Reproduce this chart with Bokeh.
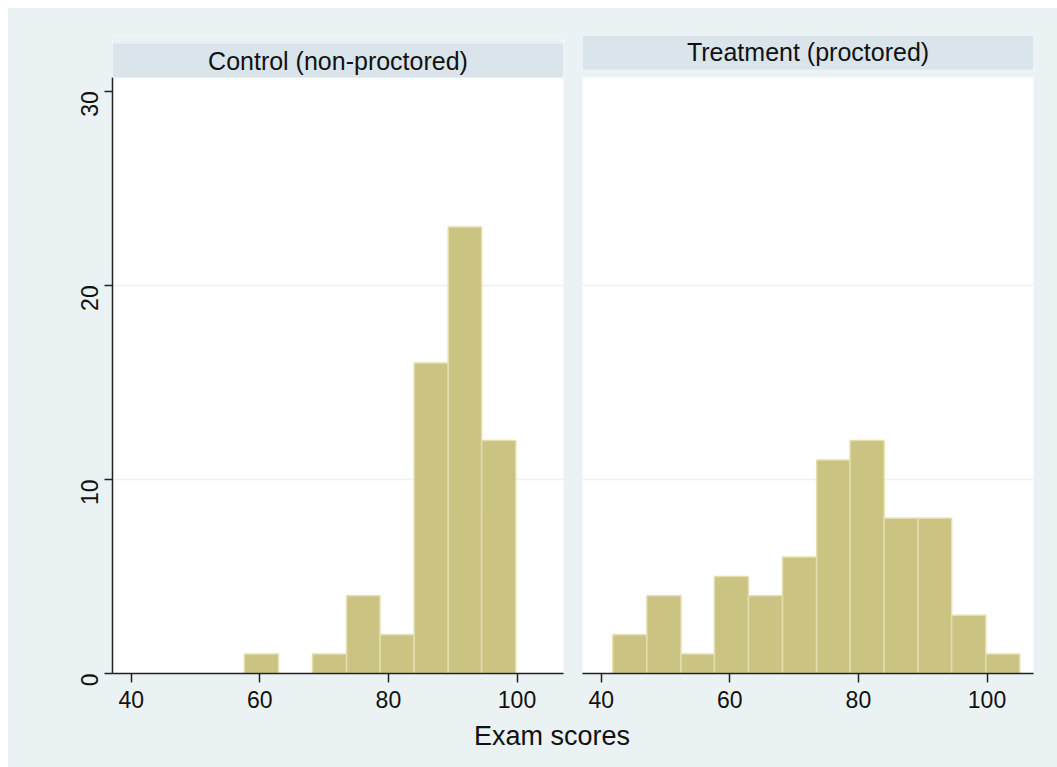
import math
from bokeh.plotting import figure
from bokeh.models import Range1d, FixedTicker, BoxAnnotation, Label, Div
from bokeh.layouts import row, column
from bokeh.embed import file_html
from bokeh.resources import INLINE

# ---- data ----
bin_edges = [41.8, 47.1, 52.4, 57.6, 62.9, 68.2, 73.5, 78.7, 84.0, 89.3, 94.5, 99.8, 105.1]
control_counts = [0, 0, 0, 1, 0, 1, 4, 2, 16, 23, 12, 0]
treatment_counts = [2, 4, 1, 5, 4, 6, 11, 12, 8, 8, 3, 1]
panel_titles = ["Control (non-proctored)", "Treatment (proctored)"]
x_ticks = [40, 60, 80, 100]
y_ticks = [0, 10, 20, 30]
grid_ticks = [10, 20]
x_title = "Exam scores"

# ---- style ----
BG = "#EAF2F3"
STRIP = "#D9E5EB"
BAR_FILL = "#CBC382"
BAR_LINE = "#E4DEAE"
AXIS = "#222222"
FONT = "Liberation Sans"

X_START, X_END = 37.09, 107.23
Y_END = 32.87
PANEL_TOP = 30.7


def make_panel(counts, title, width, left, right, strip_bottom, strip_top, show_y):
    p = figure(width=width, height=714, x_range=Range1d(X_START, X_END),
               y_range=Range1d(0, Y_END), output_backend="svg", toolbar_location=None,
               min_border_left=left, min_border_right=right, min_border_top=27,
               min_border_bottom=49)
    p.border_fill_color = BG
    p.background_fill_color = "white"
    p.outline_line_color = None

    lefts = [bin_edges[i] for i in range(len(counts)) if counts[i] > 0]
    rights = [bin_edges[i + 1] for i in range(len(counts)) if counts[i] > 0]
    tops = [c for c in counts if c > 0]
    p.quad(left=lefts, right=rights, bottom=0, top=tops,
           fill_color=BAR_FILL, line_color=BAR_LINE, line_width=1.5)

    # grid
    p.xgrid.visible = False
    p.ygrid.ticker = FixedTicker(ticks=grid_ticks)
    p.ygrid.grid_line_color = BG
    p.ygrid.grid_line_width = 1.5

    # x axis
    xa = p.xaxis[0]
    xa.ticker = FixedTicker(ticks=x_ticks)
    xa.axis_line_color = AXIS
    xa.axis_line_width = 1.5
    xa.major_tick_line_color = AXIS
    xa.major_tick_line_width = 1.5
    xa.major_tick_out = 9
    xa.major_tick_in = 0
    xa.minor_tick_line_color = None
    xa.major_label_text_font = FONT
    xa.major_label_text_font_size = "23px"
    xa.major_label_text_color = "#111111"
    xa.major_label_standoff = 8

    # y axis
    ya = p.yaxis[0]
    if show_y:
        ya.ticker = FixedTicker(ticks=y_ticks)
        ya.bounds = (0, PANEL_TOP)
        ya.axis_line_color = AXIS
        ya.axis_line_width = 1.5
        ya.major_tick_line_color = AXIS
        ya.major_tick_line_width = 1.5
        ya.major_tick_out = 8
        ya.major_tick_in = 0
        ya.minor_tick_line_color = None
        ya.major_label_text_font = FONT
        ya.major_label_text_font_size = "23px"
        ya.major_label_text_color = "#111111"
        ya.major_label_orientation = math.pi / 2
        ya.major_label_standoff = 15
    else:
        ya.visible = False

    # strip header inside the frame, above the white panel
    p.add_layout(BoxAnnotation(bottom=PANEL_TOP, fill_color=BG, fill_alpha=1,
                               line_color=None))
    p.add_layout(BoxAnnotation(bottom=strip_bottom, top=strip_top, fill_color=STRIP,
                               fill_alpha=1, line_color=None))
    p.add_layout(Label(x=(X_START + X_END) / 2, y=(strip_bottom + strip_top) / 2, text=title,
                       text_align="center", text_baseline="middle",
                       text_font=FONT, text_font_size="25px", text_color="#111111"))
    return p


p1 = make_panel(control_counts, panel_titles[0], 564, 104, 9, PANEL_TOP, 32.46, True)
p2 = make_panel(treatment_counts, panel_titles[1], 485, 10, 24, 31.12, Y_END, False)

div = Div(text=(f'<div style="font-family:\'{FONT}\'; font-size:27px; line-height:28px; '
                f'color:#111111; padding-left:466px; white-space:nowrap;">{x_title}</div>'),
          width=1049, height=45, margin=(0, 0, 0, 0),
          styles={"background-color": BG})

top_row = row(p1, p2, spacing=0, styles={"background-color": BG})
layout = column(top_row, div, spacing=0, margin=(8, 0, 0, 8),
                styles={"background-color": BG})

open("out.html", "w").write(file_html(layout, INLINE))
